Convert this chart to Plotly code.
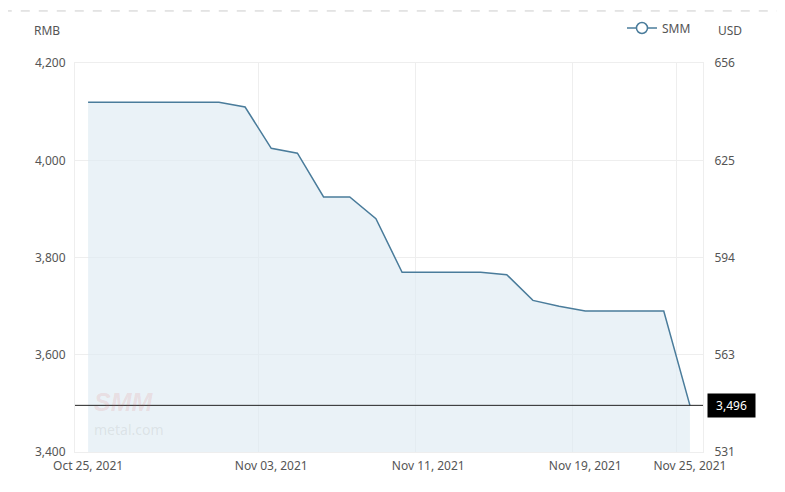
import plotly.graph_objects as go

# ---- data ----
dates = ["Oct 25, 2021", "Oct 26, 2021", "Oct 27, 2021", "Oct 28, 2021", "Oct 29, 2021",
         "Nov 01, 2021", "Nov 02, 2021", "Nov 03, 2021", "Nov 04, 2021", "Nov 05, 2021",
         "Nov 08, 2021", "Nov 09, 2021", "Nov 10, 2021", "Nov 11, 2021", "Nov 12, 2021",
         "Nov 15, 2021", "Nov 16, 2021", "Nov 17, 2021", "Nov 18, 2021", "Nov 19, 2021",
         "Nov 22, 2021", "Nov 23, 2021", "Nov 24, 2021", "Nov 25, 2021"]
smm_rmb = [4120, 4120, 4120, 4120, 4120,
           4120, 4110, 4025, 4015, 3925,
           3925, 3880, 3770, 3770, 3770,
           3770, 3765, 3712, 3700, 3690,
           3690, 3690, 3690, 3496]
label_dates = ["Oct 25, 2021", "Nov 03, 2021", "Nov 11, 2021", "Nov 19, 2021", "Nov 25, 2021"]
rmb_ticks = [3400, 3600, 3800, 4000, 4200]
usd_ticks = ["531", "563", "594", "625", "656"]
last_value = smm_rmb[-1]

idx = list(range(len(dates)))
label_idx = [dates.index(d) for d in label_dates]
grid_idx = [i - 0.5 for i in label_idx[1:]]

LINE = "#4a7c9b"
FILL = "rgba(222,235,242,0.65)"
TXT = "#555555"
FONT = "Noto Sans"

fig = go.Figure()
fig.add_trace(go.Scatter(x=idx, y=smm_rmb, mode="lines", fill="tozeroy",
                         fillcolor=FILL, line=dict(color=LINE, width=1.5),
                         showlegend=False, hoverinfo="skip"))
fig.add_trace(go.Scatter(x=idx, y=smm_rmb, mode="lines", yaxis="y2",
                         line=dict(width=0, color="rgba(0,0,0,0)"),
                         showlegend=False, hoverinfo="skip"))
fig.add_trace(go.Scatter(x=[None], y=[None], mode="lines+markers", name="SMM",
                         line=dict(color=LINE, width=1.5),
                         marker=dict(symbol="circle", size=11, color="white",
                                     line=dict(color=LINE, width=1.5))))

fig.add_hline(y=last_value, line=dict(color="#222222", width=1))

fig.add_annotation(x=1, xref="paper", y=last_value, yref="y", xanchor="left",
                   yanchor="middle", xshift=4, text=f"{last_value:,}", showarrow=False,
                   bgcolor="black", font=dict(color="white", size=12, family=FONT),
                   width=41, borderpad=3)

# axis titles
fig.add_annotation(x=-0.045, xref="paper", y=1.085, yref="paper", text="RMB",
                   showarrow=False, xanchor="center", yanchor="middle",
                   font=dict(size=12, color=TXT, family=FONT))
fig.add_annotation(x=1.043, xref="paper", y=1.085, yref="paper", text="USD",
                   showarrow=False, xanchor="center", yanchor="middle",
                   font=dict(size=12, color=TXT, family=FONT))

# watermark
fig.add_annotation(x=0.027, xref="paper", y=3503, yref="y", text="<b><i>SMM</i></b>",
                   showarrow=False, xanchor="left", yanchor="middle",
                   font=dict(size=25, color="rgba(220,90,90,0.14)", family="Liberation Sans"))
fig.add_annotation(x=0.027, xref="paper", y=3447, yref="y", text="metal.com",
                   showarrow=False, xanchor="left", yanchor="middle",
                   font=dict(size=14, color="rgba(150,150,150,0.18)", family=FONT))

# top dashed separator
fig.add_shape(type="line", xref="paper", yref="paper", x0=-0.115, x1=1.126,
              y0=1.1346, y1=1.1346, line=dict(color="#cccccc", width=1, dash="dash"))

fig.update_layout(
    width=777, height=484,
    margin=dict(l=67, r=82, t=54, b=40),
    paper_bgcolor="white", plot_bgcolor="white",
    font=dict(family=FONT, size=12, color=TXT),
    xaxis=dict(range=[-0.5, len(dates) - 0.5], tickmode="array",
               tickvals=label_idx, ticktext=label_dates, showgrid=False,
               zeroline=False, showline=True, linecolor="#eeeeee", mirror=True,
               ticks="outside", ticklen=3, tickcolor="rgba(0,0,0,0)",
               tickfont=dict(size=12, color=TXT),
               minor=dict(tickmode="array", tickvals=grid_idx, showgrid=True,
                          gridcolor="#eeeeee", gridwidth=1, ticks="")),
    yaxis=dict(range=[3400, 4200], tickmode="array", tickvals=rmb_ticks,
               ticktext=[f"{v:,}" for v in rmb_ticks], gridcolor="#eeeeee",
               zeroline=False, showline=True, linecolor="#eeeeee", mirror=True,
               ticks="outside", ticklen=6, tickcolor="rgba(0,0,0,0)",
               tickfont=dict(size=12, color=TXT)),
    yaxis2=dict(range=[3400, 4200], overlaying="y", side="right", tickmode="array",
                tickvals=rmb_ticks, ticktext=usd_ticks, showgrid=False, zeroline=False,
                ticks="outside", ticklen=8, tickcolor="rgba(0,0,0,0)",
                tickfont=dict(size=12, color=TXT)),
    legend=dict(x=0.871, xref="paper", y=0.9587, yref="container",
                xanchor="left", yanchor="middle",
                bgcolor="rgba(0,0,0,0)", font=dict(size=12, color=TXT)),
    showlegend=True,
)

fig.write_html("out.html")
